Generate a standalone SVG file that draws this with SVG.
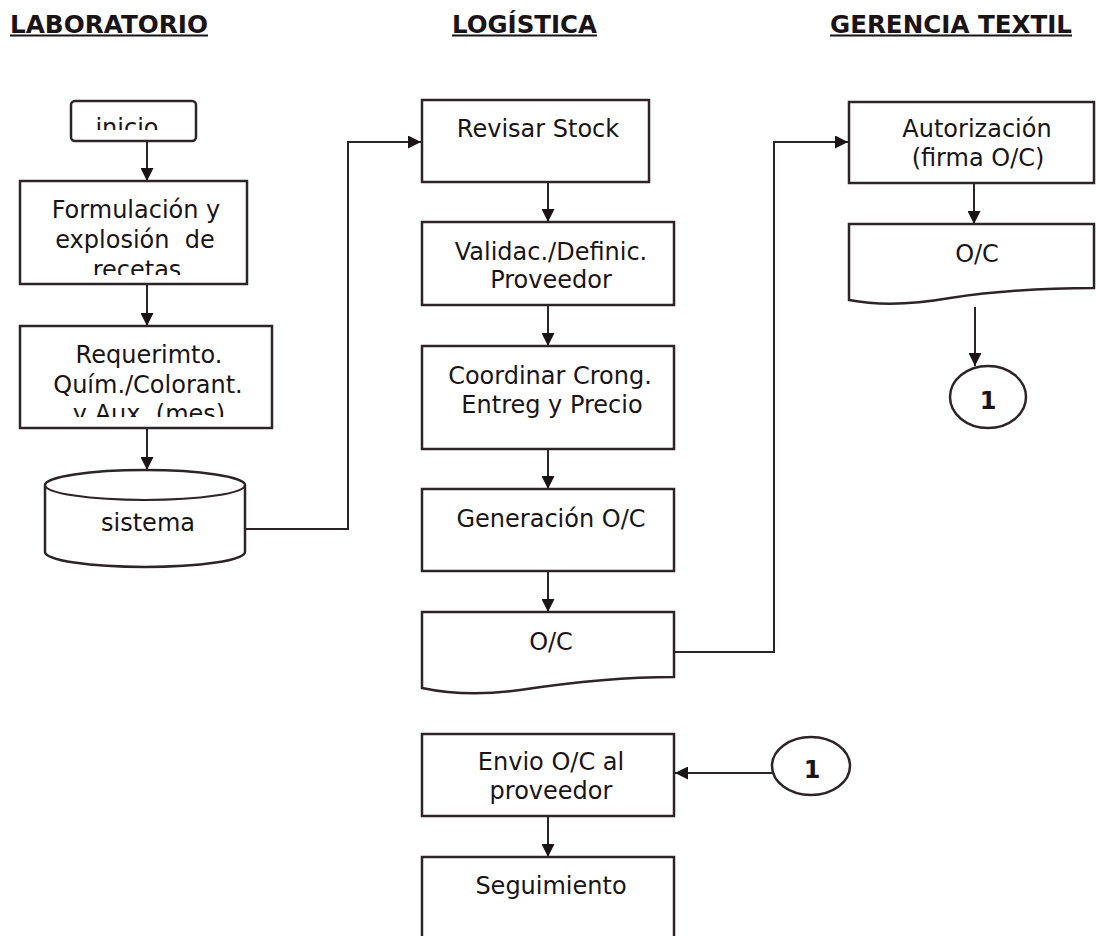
<svg xmlns="http://www.w3.org/2000/svg" width="1096" height="936" viewBox="0 0 1096 936">
<style>
.t{font-family:"DejaVu Sans","Liberation Sans",sans-serif;font-size:24px;fill:#1a1417;text-anchor:middle}
.h{font-family:"DejaVu Sans","Liberation Sans",sans-serif;font-size:24px;font-weight:bold;fill:#1a1417}
.one{font-family:"DejaVu Sans","Liberation Sans",sans-serif;font-size:24px;font-weight:bold;fill:#1a1417;text-anchor:middle}
.b{fill:#fff;stroke:#2d2428;stroke-width:2.5}
.c{fill:none;stroke:#2d2428;stroke-width:2}
.u{stroke:#1a1417;stroke-width:2.2}
</style>
<defs>
<marker id="ah" viewBox="0 0 12 12" refX="12" refY="6" markerWidth="13" markerHeight="13" markerUnits="userSpaceOnUse" orient="auto">
<path d="M0,0 L12,6 L0,12 z" fill="#1a1417"/>
</marker>
<clipPath id="cInicio"><rect x="71" y="101" width="125" height="29"/></clipPath>
<clipPath id="cForm"><rect x="20" y="181" width="227" height="94"/></clipPath>
<clipPath id="cReq"><rect x="20" y="326" width="252" height="91"/></clipPath>
</defs>

<g id="titles">
<text class="h" x="10" y="33" textLength="198" lengthAdjust="spacingAndGlyphs">LABORATORIO</text>
<line class="u" x1="10" y1="35.5" x2="208" y2="35.5"/>
<text class="h" x="452" y="33" textLength="145" lengthAdjust="spacingAndGlyphs">LOGÍSTICA</text>
<line class="u" x1="452" y1="35.5" x2="597" y2="35.5"/>
<text class="h" x="830" y="33" textLength="242" lengthAdjust="spacingAndGlyphs">GERENCIA TEXTIL</text>
<line class="u" x1="830" y1="35.5" x2="1072" y2="35.5"/>
</g>

<g id="connectors">
<line class="c" x1="147" y1="141" x2="147" y2="181" marker-end="url(#ah)"/>
<line class="c" x1="147" y1="284" x2="147" y2="326" marker-end="url(#ah)"/>
<line class="c" x1="147" y1="428" x2="147" y2="470" marker-end="url(#ah)"/>
<polyline class="c" points="245,529 348,529 348,142 421,142" marker-end="url(#ah)"/>
<line class="c" x1="548" y1="182" x2="548" y2="222" marker-end="url(#ah)"/>
<line class="c" x1="548" y1="305" x2="548" y2="346" marker-end="url(#ah)"/>
<line class="c" x1="548" y1="449" x2="548" y2="489" marker-end="url(#ah)"/>
<line class="c" x1="548" y1="571" x2="548" y2="612" marker-end="url(#ah)"/>
<polyline class="c" points="674,652 774,652 774,142 848,142" marker-end="url(#ah)"/>
<line class="c" x1="974" y1="183" x2="974" y2="224" marker-end="url(#ah)"/>
<line class="c" x1="975" y1="307" x2="975" y2="366" marker-end="url(#ah)"/>
<line class="c" x1="772" y1="773" x2="675" y2="773" marker-end="url(#ah)"/>
<line class="c" x1="548" y1="816" x2="548" y2="857" marker-end="url(#ah)"/>
</g>

<g id="inicio">
<rect class="b" x="71" y="101" width="125" height="40" rx="4"/>
<text class="t" x="127" y="136" clip-path="url(#cInicio)">inicio</text>
</g>

<g id="formulacion">
<rect class="b" x="20" y="181" width="227" height="103"/>
<g clip-path="url(#cForm)">
<text class="t" x="136" y="218">Formulación y</text>
<text class="t" x="135" y="248" xml:space="preserve">explosión  de</text>
<text class="t" x="137" y="278">recetas</text>
</g>
</g>

<g id="requerimiento">
<rect class="b" x="20" y="326" width="252" height="102"/>
<g clip-path="url(#cReq)">
<text class="t" x="149" y="363">Requerimto.</text>
<text class="t" x="148" y="393">Quím./Colorant.</text>
<text class="t" x="149" y="422">y Aux. (mes)</text>
</g>
</g>

<g id="sistema">
<path class="b" d="M45,485 A100,15 0 0 1 245,485 V552 A100,15 0 0 1 45,552 Z"/>
<path class="c" d="M45,485 A100,15 0 0 0 245,485"/>
<text class="t" x="148" y="531">sistema</text>
</g>

<g id="revisar">
<rect class="b" x="422" y="100" width="227" height="82"/>
<text class="t" x="538" y="137">Revisar Stock</text>
</g>

<g id="validac">
<rect class="b" x="422" y="222" width="252" height="83"/>
<text class="t" x="551" y="260">Validac./Definic.</text>
<text class="t" x="551" y="288">Proveedor</text>
</g>

<g id="coordinar">
<rect class="b" x="422" y="346" width="252" height="103"/>
<text class="t" x="550" y="384">Coordinar Crong.</text>
<text class="t" x="552" y="413">Entreg y Precio</text>
</g>

<g id="generacion">
<rect class="b" x="422" y="489" width="252" height="82"/>
<text class="t" x="551" y="527">Generación O/C</text>
</g>

<g id="oc-logistica">
<path class="b" d="M422,612 H674 V677 C620,677 560,684 520,690 C485,695 450,694 422,688 Z"/>
<text class="t" x="551" y="650">O/C</text>
</g>

<g id="envio">
<rect class="b" x="422" y="734" width="252" height="82"/>
<text class="t" x="551" y="770">Envio O/C al</text>
<text class="t" x="551" y="799">proveedor</text>
</g>

<g id="seguimiento">
<rect class="b" x="422" y="857" width="252" height="100"/>
<text class="t" x="551" y="894">Seguimiento</text>
</g>

<g id="conector-1-logistica">
<ellipse class="b" cx="811" cy="766" rx="39" ry="29"/>
<text class="one" x="812" y="778">1</text>
</g>

<g id="autorizacion">
<rect class="b" x="849" y="102" width="245" height="81"/>
<text class="t" x="977" y="137">Autorización</text>
<text class="t" x="978" y="166">(firma O/C)</text>
</g>

<g id="oc-gerencia">
<path class="b" d="M849,224 H1094 V288 C1040,288 990,292 950,298 C910,305 875,305 849,300 Z"/>
<text class="t" x="977" y="262">O/C</text>
</g>

<g id="conector-1-gerencia">
<ellipse class="b" cx="988" cy="397" rx="38" ry="31"/>
<text class="one" x="988" y="409">1</text>
</g>
</svg>
